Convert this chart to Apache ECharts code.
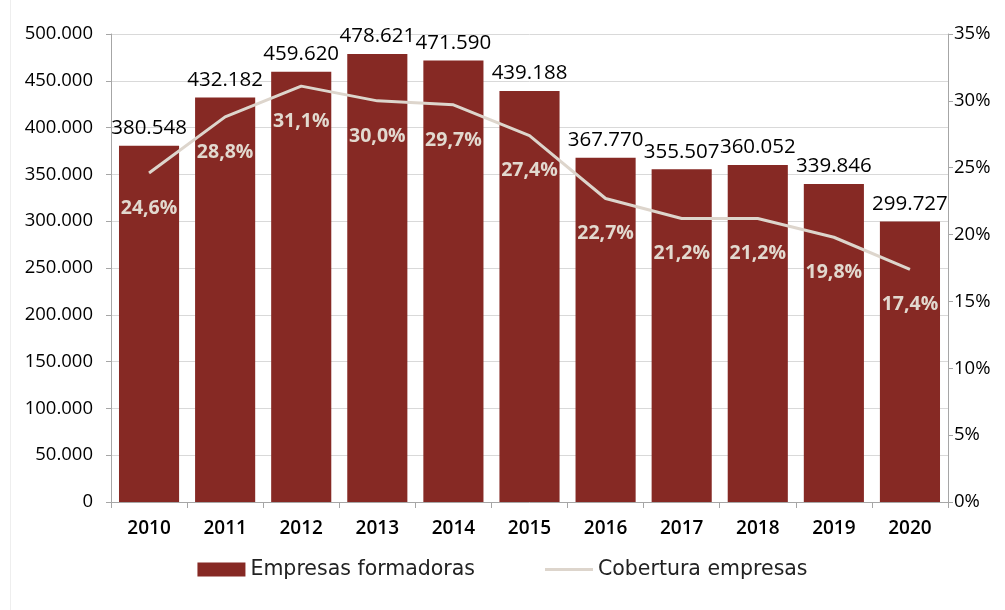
<!DOCTYPE html>
<html><head><meta charset="utf-8">
<script src="https://cdn.jsdelivr.net/npm/echarts@6/dist/echarts.min.js"></script>
<style>html,body{margin:0;padding:0;background:#fff}#c{width:1005px;height:610px}</style>
</head><body><div id="c"></div>
<script>
const years = ['2010','2011','2012','2013','2014','2015','2016','2017','2018','2019','2020'];
const empresasFormadoras = [380548,432182,459620,478621,471590,439188,367770,355507,360052,339846,299727];
const coberturaEmpresas = [24.6,28.8,31.1,30.0,29.7,27.4,22.7,21.2,21.2,19.8,17.4];

const fmtThousands = v => String(Math.round(v)).replace(/\B(?=(\d{3})+(?!\d))/g, '.');
const fmtPct = v => v.toFixed(1).replace('.', ',') + '%';

const chart = echarts.init(document.getElementById('c'), null, {renderer:'canvas'});
const axisFont = {fontFamily:'Open Sans', fontSize:18.5, color:'#000'};
chart.setOption({
  animation:false,
  grid:{left:111, right:57, top:34, bottom:108},
  legend:{
    bottom:25, left:'center', itemWidth:48, itemHeight:14, itemGap:70, itemStyle:{opacity:1},
    textStyle:{fontFamily:'DejaVu Sans', fontSize:20.5, color:'#222'},
    data:[{name:'Empresas formadoras', icon:'rect'},
          {name:'Cobertura empresas', icon:'path://M0,0 L50,0 L50,3 L0,3 Z'}]
  },
  xAxis:{
    type:'category', data:years,
    axisLine:{lineStyle:{color:'#a6a6a6', width:1}},
    axisTick:{show:true, length:6, lineStyle:{color:'#a6a6a6'}},
    axisLabel:Object.assign({margin:17, fontWeight:600}, axisFont, {fontSize:19})
  },
  yAxis:[
    {type:'value', min:0, max:500000, interval:50000,
     axisLine:{show:true, lineStyle:{color:'#a6a6a6'}},
     axisTick:{show:true, length:5, lineStyle:{color:'#a6a6a6'}},
     splitLine:{lineStyle:{color:'#d9d9d9'}},
     axisLabel:Object.assign({margin:18, formatter:fmtThousands}, axisFont)},
    {type:'value', min:0, max:35, interval:5,
     axisLine:{show:true, lineStyle:{color:'#a6a6a6'}},
     axisTick:{show:true, length:5, lineStyle:{color:'#a6a6a6'}},
     splitLine:{show:false},
     axisLabel:Object.assign({margin:6, formatter:v => v + '%'}, axisFont)}
  ],
  series:[
    {name:'Empresas formadoras', type:'bar', data:empresasFormadoras, barCategoryGap:'21%',
     itemStyle:{color:'#862924'},
     label:{show:true, position:'top', distance:7, formatter:p => fmtThousands(p.value),
       fontFamily:'Open Sans', fontSize:20.5, color:'#000'}},
    {name:'Cobertura empresas', type:'line', yAxisIndex:1, data:coberturaEmpresas,
     symbol:'circle', symbolSize:0.5, showSymbol:true,
     lineStyle:{color:'#ddd5cc', width:3}, itemStyle:{color:'#ddd5cc'},
     label:{show:true, position:'bottom', distance:25, formatter:p => fmtPct(p.value),
       fontFamily:'Open Sans', fontWeight:'bold', fontSize:19.5, color:'#e2d9cf'},
     labelLayout:{hideOverlap:false},
     z:5}
  ],
  graphic:[{type:'line', shape:{x1:10.5,y1:0,x2:10.5,y2:610}, style:{stroke:'#eeeeee', lineWidth:1}}]
});
</script></body></html>
